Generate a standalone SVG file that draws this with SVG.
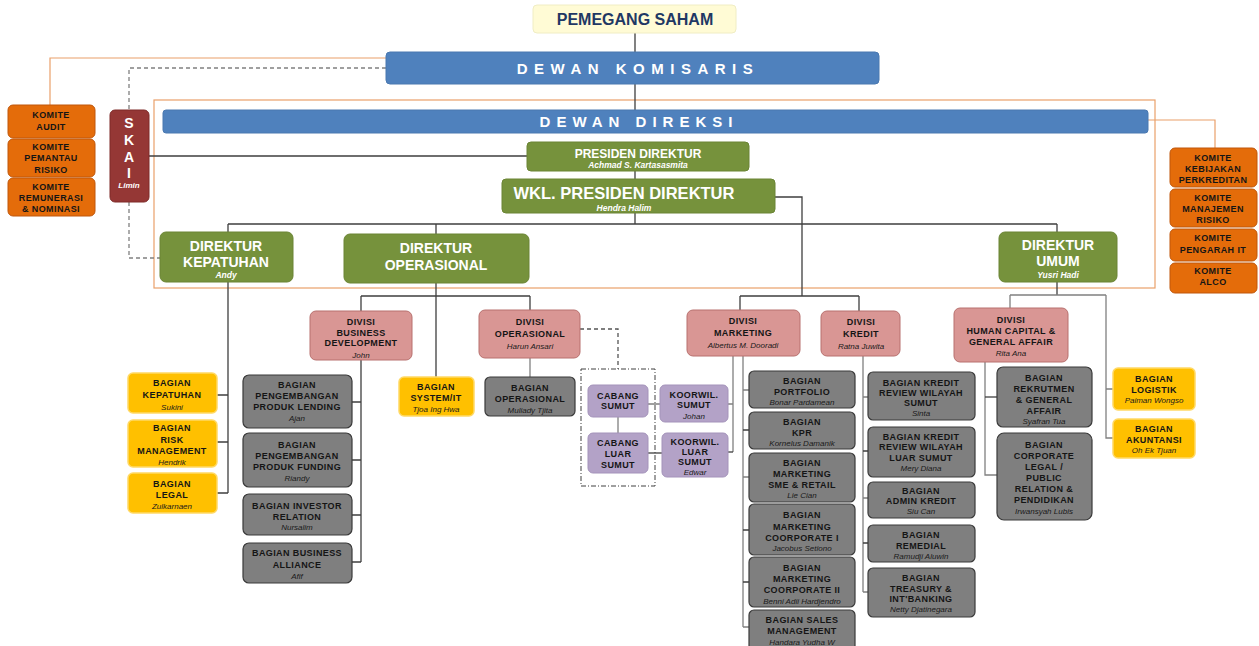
<svg xmlns="http://www.w3.org/2000/svg" width="1259" height="646" viewBox="0 0 1259 646">
<style>
text{font-family:"Liberation Sans",Arial,sans-serif;text-anchor:middle;font-weight:bold}
.t{font-size:9px;fill:#151515;letter-spacing:0.4px}
.n{font-size:8px;font-style:italic;font-weight:normal;fill:#1a1a1a}
.wn{font-size:8.5px;font-style:italic;fill:#fff}
.w{fill:#fff}
.gr{fill:#76923C;stroke:#6A8434}
.bl{fill:#4F81BD;stroke:#4A78B0}
.pk{fill:#D99694;stroke:#B8706E}
.gy{fill:#7F7F7F;stroke:#3A3A3A;stroke-width:1.2}
.ye{fill:#FFC000;stroke:#FFD966;stroke-width:1.5}
.or{fill:#E46C0A;stroke:#C0560A}
.pu{fill:#B3A2C7;stroke:#A493BA}
.ln{fill:none;stroke:#3F3F3F;stroke-width:1.3}
.lg{fill:none;stroke:#808080;stroke-width:1.3}
.lo{fill:none;stroke:#E9A06A;stroke-width:1.2}
.ld{fill:none;stroke:#808080;stroke-width:1.3;stroke-dasharray:4 3}
.ldd{fill:none;stroke:#404040;stroke-width:1;stroke-dasharray:5 2 1 2}
</style>
<rect width="1259" height="646" fill="#fff"/>
<g id="connectors">
<rect x="154" y="100" width="1001" height="188" class="lo"/>
<path class="ln" d="M635 33V52M635 84V110"/>
<path class="lo" d="M386 58H50V105M1148 120H1215V148"/>
<path class="ld" d="M386 68H129V110M129 202V258H160"/>
<path class="ln" d="M149 156H527M635 171V179M635 213V224M228 224H1057M228 224V232M436 224V234M1057 224V232"/>
<path class="ln" d="M775 197H802V296M740 296H859M740 296V310M859 296V311"/>
<path class="ln" d="M228 282V493M217 395H228M217 442H228M217 493H228"/>
<path class="ln" d="M436 283V377M361 296H530M361 296V311M530 296V310"/>
<path class="ln" d="M361 360V562M352 402H361M352 460H361M352 515H361M352 562H361"/>
<path class="lg" d="M530 358V377"/>
<path class="ld" d="M580 329H618V369" style="stroke:#555"/>
<path class="lg" d="M618 417V433M648 404H660"/>
<path class="ln" d="M648 453H662"/>
<path class="lg" d="M733 356V452M728 404H733"/>
<path class="ln" d="M727 452H733"/>
<path class="lg" d="M743 356V627M743 390H749M743 477H749M743 627H749"/>
<path class="ln" d="M743 430H749M743 530H749M743 582H749"/>
<path class="lg" d="M863 356V592M863 397H868M863 498H868M863 592H868"/>
<path class="ln" d="M863 451H868M863 543H868"/>
<path class="ln" d="M1057 282V295"/>
<path class="lg" d="M1010 295H1106M1010 295V308M1106 295V438H1113M1106 389H1113"/>
<path class="lg" d="M985 362V475H997"/>
<path class="ln" d="M985 397H997"/>
<rect x="581" y="369" width="74" height="117" class="ldd"/>
</g>
<g id="pemegang-saham"><rect x="533" y="5" width="203" height="28" rx="4" fill="#FFFBD5" stroke="#F0EDC4"/><text x="635" y="25" style="font-size:16px;fill:#1F3864">PEMEGANG SAHAM</text></g>
<g id="dewan-komisaris"><rect x="386" y="52" width="493" height="32" rx="4" class="bl"/><text x="638" y="74" class="w" style="font-size:15px;letter-spacing:6.5px">DEWAN  KOMISARIS</text></g>
<g id="dewan-direksi"><rect x="163" y="110" width="985" height="23" rx="3" class="bl"/><text x="639" y="127" class="w" style="font-size:15px;letter-spacing:6px">DEWAN DIREKSI</text></g>
<g id="komite-audit"><rect x="8" y="105" width="87" height="33" rx="5" class="or"/><text x="51" y="118" class="t">KOMITE</text><text x="51" y="130" class="t">AUDIT</text></g>
<g id="komite-pemantau"><rect x="8" y="139" width="87" height="38" rx="5" class="or"/><text x="51" y="150" class="t">KOMITE</text><text x="51" y="161" class="t">PEMANTAU</text><text x="51" y="173" class="t">RISIKO</text></g>
<g id="komite-remunerasi"><rect x="8" y="178" width="87" height="38" rx="5" class="or"/><text x="51" y="190" class="t">KOMITE</text><text x="51" y="201" class="t">REMUNERASI</text><text x="51" y="212" class="t">&amp; NOMINASI</text></g>
<g id="komite-kebijakan"><rect x="1170" y="148" width="87" height="39" rx="5" class="or"/><text x="1213" y="161" class="t">KOMITE</text><text x="1213" y="172" class="t">KEBIJAKAN</text><text x="1213" y="183" class="t">PERKREDITAN</text></g>
<g id="komite-manajemen"><rect x="1170" y="189" width="87" height="38" rx="5" class="or"/><text x="1213" y="201" class="t">KOMITE</text><text x="1213" y="212" class="t">MANAJEMEN</text><text x="1213" y="223" class="t">RISIKO</text></g>
<g id="komite-it"><rect x="1170" y="229" width="87" height="32" rx="5" class="or"/><text x="1213" y="241" class="t">KOMITE</text><text x="1213" y="253" class="t">PENGARAH  IT</text></g>
<g id="komite-alco"><rect x="1170" y="263" width="87" height="30" rx="5" class="or"/><text x="1213" y="274" class="t">KOMITE</text><text x="1213" y="285" class="t">ALCO</text></g>
<g id="skai"><rect x="110" y="110" width="39" height="92" rx="5" fill="#953735" stroke="#7E2B29"/><text x="129" y="128" class="w" style="font-size:14px">S</text><text x="129" y="145" class="w" style="font-size:14px">K</text><text x="129" y="162" class="w" style="font-size:14px">A</text><text x="129" y="178" class="w" style="font-size:14px">I</text><text x="129" y="188" class="wn" style="font-size:8px">Limin</text></g>
<g id="presiden-direktur"><rect x="527" y="142" width="222" height="29" rx="4" class="gr"/><text x="638" y="158" class="w" style="font-size:12px">PRESIDEN DIREKTUR</text><text x="638" y="168" class="wn">Achmad S. Kartasasmita</text></g>
<g id="wkl-presiden"><rect x="502" y="179" width="273" height="34" rx="4" class="gr"/><text x="624" y="199" class="w" style="font-size:16.5px">WKL. PRESIDEN DIREKTUR</text><text x="624" y="211" class="wn">Hendra Halim</text></g>
<g id="direktur-kepatuhan"><rect x="160" y="232" width="133" height="50" rx="6" class="gr"/><text x="226" y="251" class="w" style="font-size:14px">DIREKTUR</text><text x="226" y="267" class="w" style="font-size:14px">KEPATUHAN</text><text x="226" y="278" class="wn">Andy</text></g>
<g id="direktur-operasional"><rect x="344" y="234" width="185" height="49" rx="6" class="gr"/><text x="436" y="253" class="w" style="font-size:14px">DIREKTUR</text><text x="436" y="270" class="w" style="font-size:14px">OPERASIONAL</text></g>
<g id="direktur-umum"><rect x="999" y="232" width="118" height="50" rx="6" class="gr"/><text x="1058" y="250" class="w" style="font-size:14px">DIREKTUR</text><text x="1058" y="266" class="w" style="font-size:14px">UMUM</text><text x="1058" y="278" class="wn">Yusri Hadi</text></g>
<g id="divisi-bd"><rect x="310" y="311" width="102" height="49" rx="6" class="pk"/><text x="361" y="325" class="t">DIVISI</text><text x="361" y="336" class="t">BUSINESS</text><text x="361" y="346" class="t">DEVELOPMENT</text><text x="361" y="358" class="n">John</text></g>
<g id="divisi-operasional"><rect x="479" y="310" width="101" height="48" rx="6" class="pk"/><text x="530" y="325" class="t">DIVISI</text><text x="530" y="337" class="t">OPERASIONAL</text><text x="530" y="349" class="n">Harun Ansari</text></g>
<g id="divisi-marketing"><rect x="687" y="310" width="113" height="46" rx="6" class="pk"/><text x="743" y="324" class="t">DIVISI</text><text x="743" y="336" class="t">MARKETING</text><text x="743" y="348" class="n">Albertus M. Dooradi</text></g>
<g id="divisi-kredit"><rect x="821" y="311" width="79" height="45" rx="6" class="pk"/><text x="861" y="325" class="t">DIVISI</text><text x="861" y="337" class="t">KREDIT</text><text x="861" y="349" class="n">Ratna Juwita</text></g>
<g id="divisi-hc"><rect x="954" y="308" width="114" height="54" rx="6" class="pk"/><text x="1011" y="323" class="t">DIVISI</text><text x="1011" y="334" class="t">HUMAN CAPITAL &amp;</text><text x="1011" y="345" class="t">GENERAL AFFAIR</text><text x="1011" y="356" class="n">Rita Ana</text></g>
<g id="bagian-kepatuhan"><rect x="128" y="373" width="89" height="40" rx="5" class="ye"/><text x="172" y="386" class="t">BAGIAN</text><text x="172" y="398" class="t">KEPATUHAN</text><text x="172" y="410" class="n">Sukini</text></g>
<g id="bagian-risk"><rect x="128" y="420" width="89" height="47" rx="5" class="ye"/><text x="172" y="431" class="t">BAGIAN</text><text x="172" y="443" class="t">RISK</text><text x="172" y="454" class="t">MANAGEMENT</text><text x="172" y="465" class="n">Hendrik</text></g>
<g id="bagian-legal"><rect x="128" y="473" width="89" height="40" rx="5" class="ye"/><text x="172" y="487" class="t">BAGIAN</text><text x="172" y="498" class="t">LEGAL</text><text x="172" y="509" class="n">Zulkarnaen</text></g>
<g id="bagian-lending"><rect x="243" y="375" width="109" height="53" rx="6" class="gy"/><text x="297" y="388" class="t">BAGIAN</text><text x="297" y="399" class="t">PENGEMBANGAN</text><text x="297" y="410" class="t">PRODUK LENDING</text><text x="297" y="421" class="n">Ajan</text></g>
<g id="bagian-funding"><rect x="243" y="433" width="109" height="54" rx="6" class="gy"/><text x="297" y="448" class="t">BAGIAN</text><text x="297" y="459" class="t">PENGEMBANGAN</text><text x="297" y="470" class="t">PRODUK FUNDING</text><text x="297" y="481" class="n">Riandy</text></g>
<g id="bagian-investor"><rect x="243" y="494" width="109" height="41" rx="6" class="gy"/><text x="297" y="509" class="t">BAGIAN INVESTOR</text><text x="297" y="520" class="t">RELATION</text><text x="297" y="530" class="n">Nursalim</text></g>
<g id="bagian-alliance"><rect x="243" y="543" width="109" height="40" rx="6" class="gy"/><text x="297" y="556" class="t">BAGIAN BUSINESS</text><text x="297" y="568" class="t">ALLIANCE</text><text x="297" y="579" class="n">Afif</text></g>
<g id="bagian-system"><rect x="399" y="377" width="75" height="39" rx="5" class="ye"/><text x="436" y="390" class="t">BAGIAN</text><text x="436" y="401" class="t">SYSTEM/IT</text><text x="436" y="412" class="n">Tjoa Ing Hwa</text></g>
<g id="bagian-operasional"><rect x="485" y="377" width="90" height="39" rx="5" class="gy"/><text x="530" y="391" class="t">BAGIAN</text><text x="530" y="402" class="t">OPERASIONAL</text><text x="530" y="413" class="n">Muliady Tjita</text></g>
<g id="cabang-sumut"><rect x="588" y="385" width="60" height="32" rx="5" class="pu"/><text x="618" y="399" class="t">CABANG</text><text x="618" y="409" class="t">SUMUT</text></g>
<g id="cabang-luar"><rect x="588" y="433" width="60" height="40" rx="5" class="pu"/><text x="618" y="446" class="t">CABANG</text><text x="618" y="457" class="t">LUAR</text><text x="618" y="468" class="t">SUMUT</text></g>
<g id="koorwil-sumut"><rect x="660" y="385" width="68" height="37" rx="5" class="pu"/><text x="694" y="398" class="t">KOORWIL.</text><text x="694" y="408" class="t">SUMUT</text><text x="694" y="419" class="n">Johan</text></g>
<g id="koorwil-luar"><rect x="662" y="433" width="66" height="44" rx="5" class="pu"/><text x="695" y="445" class="t">KOORWIL.</text><text x="695" y="455" class="t">LUAR</text><text x="695" y="465" class="t">SUMUT</text><text x="695" y="475" class="n">Edwar</text></g>
<g id="bagian-portfolio"><rect x="749" y="371" width="106" height="37" rx="5" class="gy"/><text x="802" y="384" class="t">BAGIAN</text><text x="802" y="395" class="t">PORTFOLIO</text><text x="802" y="405" class="n">Bonar Pardamean</text></g>
<g id="bagian-kpr"><rect x="749" y="412" width="106" height="37" rx="5" class="gy"/><text x="802" y="425" class="t">BAGIAN</text><text x="802" y="436" class="t">KPR</text><text x="802" y="446" class="n">Kornelus Damanik</text></g>
<g id="bagian-sme"><rect x="749" y="453" width="106" height="49" rx="5" class="gy"/><text x="802" y="466" class="t">BAGIAN</text><text x="802" y="477" class="t">MARKETING</text><text x="802" y="488" class="t">SME &amp; RETAIL</text><text x="802" y="498" class="n">Lie Cian</text></g>
<g id="bagian-corp1"><rect x="749" y="504" width="106" height="51" rx="5" class="gy"/><text x="802" y="518" class="t">BAGIAN</text><text x="802" y="530" class="t">MARKETING</text><text x="802" y="541" class="t">COORPORATE I</text><text x="802" y="551" class="n">Jacobus Setiono</text></g>
<g id="bagian-corp2"><rect x="749" y="557" width="106" height="50" rx="5" class="gy"/><text x="802" y="571" class="t">BAGIAN</text><text x="802" y="582" class="t">MARKETING</text><text x="802" y="593" class="t">COORPORATE II</text><text x="802" y="604" class="n">Benni Adii Hardjendro</text></g>
<g id="bagian-sales"><rect x="749" y="610" width="106" height="44" rx="5" class="gy"/><text x="802" y="623" class="t">BAGIAN SALES</text><text x="802" y="634" class="t">MANAGEMENT</text><text x="802" y="645" class="n">Handara Yudha W</text></g>
<g id="bagian-review-sumut"><rect x="868" y="372" width="107" height="48" rx="5" class="gy"/><text x="921" y="386" class="t">BAGIAN KREDIT</text><text x="921" y="396" class="t">REVIEW WILAYAH</text><text x="921" y="406" class="t">SUMUT</text><text x="921" y="416" class="n">Sinta</text></g>
<g id="bagian-review-luar"><rect x="868" y="427" width="107" height="50" rx="5" class="gy"/><text x="921" y="440" class="t">BAGIAN KREDIT</text><text x="921" y="450" class="t">REVIEW WILAYAH</text><text x="921" y="461" class="t">LUAR SUMUT</text><text x="921" y="471" class="n">Mery Diana</text></g>
<g id="bagian-admin"><rect x="868" y="482" width="107" height="36" rx="5" class="gy"/><text x="921" y="494" class="t">BAGIAN</text><text x="921" y="504" class="t">ADMIN KREDIT</text><text x="921" y="514" class="n">Siu Can</text></g>
<g id="bagian-remedial"><rect x="868" y="525" width="107" height="37" rx="5" class="gy"/><text x="921" y="538" class="t">BAGIAN</text><text x="921" y="549" class="t">REMEDIAL</text><text x="921" y="559" class="n">Ramudji Aluwin</text></g>
<g id="bagian-treasury"><rect x="868" y="568" width="107" height="49" rx="5" class="gy"/><text x="921" y="581" class="t">BAGIAN</text><text x="921" y="592" class="t">TREASURY &amp;</text><text x="921" y="602" class="t">INT'BANKING</text><text x="921" y="612" class="n">Netty Djatinegara</text></g>
<g id="bagian-rekrutmen"><rect x="997" y="367" width="95" height="60" rx="6" class="gy"/><text x="1044" y="381" class="t">BAGIAN</text><text x="1044" y="392" class="t">REKRUTMEN</text><text x="1044" y="403" class="t">&amp; GENERAL</text><text x="1044" y="414" class="t">AFFAIR</text><text x="1044" y="424" class="n">Syafran Tua</text></g>
<g id="bagian-corporate"><rect x="997" y="433" width="95" height="87" rx="7" class="gy"/><text x="1044" y="448" class="t">BAGIAN</text><text x="1044" y="459" class="t">CORPORATE</text><text x="1044" y="470" class="t">LEGAL /</text><text x="1044" y="481" class="t">PUBLIC</text><text x="1044" y="492" class="t">RELATION &amp;</text><text x="1044" y="503" class="t">PENDIDIKAN</text><text x="1044" y="514" class="n">Irwansyah Lubis</text></g>
<g id="bagian-logistik"><rect x="1113" y="368" width="82" height="42" rx="5" class="ye"/><text x="1154" y="382" class="t">BAGIAN</text><text x="1154" y="393" class="t">LOGISTIK</text><text x="1154" y="403" class="n">Paiman Wongso</text></g>
<g id="bagian-akuntansi"><rect x="1113" y="419" width="82" height="39" rx="5" class="ye"/><text x="1154" y="432" class="t">BAGIAN</text><text x="1154" y="443" class="t">AKUNTANSI</text><text x="1154" y="453" class="n">Oh Ek Tjuan</text></g>
</svg>
